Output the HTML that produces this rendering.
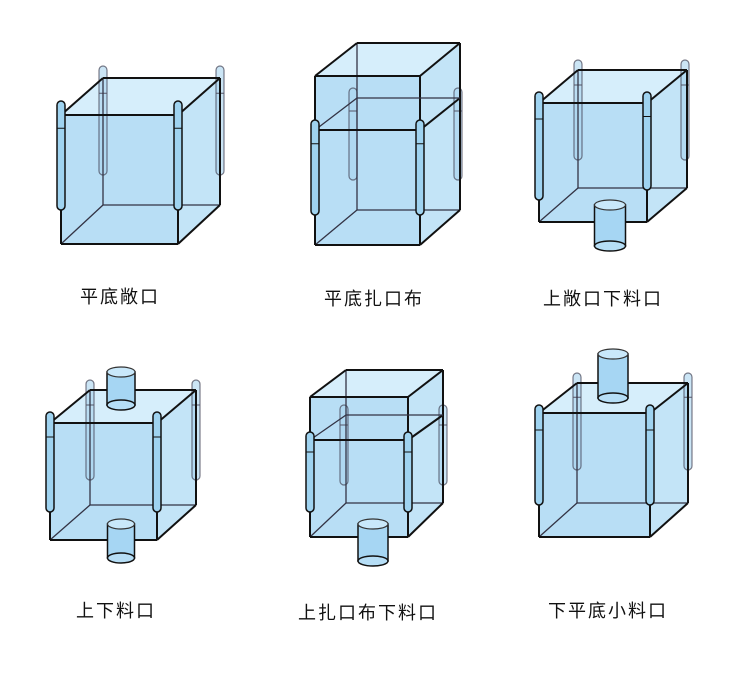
<!DOCTYPE html>
<html><head><meta charset="utf-8"><style>
html,body{margin:0;padding:0;background:#fff;}
#c{position:relative;width:750px;height:681px;overflow:hidden;}
.t{position:absolute;font-family:"Liberation Sans","Noto Sans CJK SC",sans-serif;font-size:18px;color:#111;letter-spacing:2px;white-space:nowrap;}
</style></head><body><div id="c">
<svg id="s" width="750" height="681" xmlns="http://www.w3.org/2000/svg"></svg>
<div class="t" style="left:80px;top:283px">平底敞口</div>
<div class="t" style="left:324px;top:285px">平底扎口布</div>
<div class="t" style="left:543px;top:285px">上敞口下料口</div>
<div class="t" style="left:76px;top:597px">上下料口</div>
<div class="t" style="left:298px;top:599px">上扎口布下料口</div>
<div class="t" style="left:548px;top:597px">下平底小料口</div>
</div>
<script>
var s=document.getElementById('s'),h='';
function P(a){return a.map(function(p){return p.join(',')}).join(' ');}
function L(a,b,w,c){h+='<line x1="'+a[0]+'" y1="'+a[1]+'" x2="'+b[0]+'" y2="'+b[1]+'" stroke="'+(c||'#111')+'" stroke-width="'+w+'"/>';}
function strap(x,y1,y2,back){h+='<rect x="'+(x-4)+'" y="'+y1+'" width="8" height="'+(y2-y1)+'" rx="4" fill="'+(back?'#a8d4ee':'#9fd3f0')+'" fill-opacity="'+(back?0.6:1)+'" stroke="'+(back?'#445':'#111')+'" stroke-width="'+(back?1.2:1.5)+'" stroke-opacity="'+(back?0.7:1)+'"/>';
 L([x-4,y1+(y2-y1)*0.25],[x+4,y1+(y2-y1)*0.25],1,back?'#556':'#111');}
function spout(cx,y1,y2,w){var rx=w/2;
 h+='<rect x="'+(cx-rx)+'" y="'+y1+'" width="'+w+'" height="'+(y2-y1)+'" fill="#a6d6f3" stroke="#111" stroke-width="1.5"/>';
 h+='<ellipse cx="'+cx+'" cy="'+y1+'" rx="'+rx+'" ry="5" fill="#c9e8fa" stroke="#333" stroke-width="1.2"/>';
 h+='<ellipse cx="'+cx+'" cy="'+y2+'" rx="'+rx+'" ry="5" fill="#b6def6" stroke="#111" stroke-width="1.5"/>';}
function box(o){var fx1=o.fx1,fx2=o.fx2,ft=o.ft,fb=o.fb,bx1=o.bx1,bx2=o.bx2,bt=o.bt,bb=o.bb;
 h+='<polygon points="'+P([[fx1,ft],[bx1,bt],[bx2,bt],[bx2,bb],[fx2,fb],[fx1,fb]])+'" fill="#c3e4f7"/>';
 h+='<polygon points="'+P([[fx1,ft],[bx1,bt],[bx2,bt],[fx2,ft]])+'" fill="#d6eefb"/>';
 h+='<polygon points="'+P([[fx1,ft],[fx2,ft],[fx2,fb],[fx1,fb]])+'" fill="#b8def5"/>';
 o.bs.forEach(function(b){strap(b[0],b[1],b[2],true);});
 L([bx1,bt],[bx1,bb],1.3,'#334');L([bx1,bb],[bx2,bb],1.3,'#334');L([bx1,bb],[fx1,fb],1.3,'#334');
 L([fx1,ft],[fx2,ft],2);L([fx2,ft],[fx2,fb],2);L([fx2,fb],[fx1,fb],2);L([fx1,fb],[fx1,ft],2);
 L([fx1,ft],[bx1,bt],2);L([bx1,bt],[bx2,bt],2);L([fx2,ft],[bx2,bt],2);L([bx2,bt],[bx2,bb],2);L([fx2,fb],[bx2,bb],2);
 if(o.mid){var fm=o.mid[0],bm=o.mid[1];L([fx1,fm],[fx2,fm],2);L([fx2,fm],[bx2,bm],2);L([fx1,fm],[bx1,bm],1.3,'#334');L([bx1,bm],[bx2,bm],1.3,'#334');}
 if(o.topSpout)spout.apply(null,o.topSpout);
 if(o.botSpout)spout.apply(null,o.botSpout);
 o.fs.forEach(function(b){strap(b[0],b[1],b[2],false);});
}
box({fx1:61,fx2:178,ft:115,fb:244,bx1:103,bx2:220,bt:78,bb:205,bs:[[103,66,175],[220,66,175]],fs:[[61,101,210],[178,101,210]]});
box({fx1:315,fx2:420,ft:76,fb:245,bx1:357,bx2:460,bt:43,bb:210,mid:[130,98],bs:[[353,88,180],[458,88,180]],fs:[[315,120,215],[420,120,215]]});
box({fx1:539,fx2:647,ft:103,fb:222,bx1:578,bx2:687,bt:70,bb:188,bs:[[578,60,160],[685,60,160]],fs:[[539,92,200],[647,92,190]],botSpout:[610,205,246,31]});
box({fx1:50,fx2:157,ft:423,fb:540,bx1:90,bx2:196,bt:390,bb:505,bs:[[90,380,480],[196,380,480]],fs:[[50,412,512],[157,412,512]],topSpout:[121,372,405,28],botSpout:[121,524,558,27]});
box({fx1:310,fx2:408,ft:397,fb:537,bx1:346,bx2:443,bt:370,bb:503,mid:[440,415],bs:[[344,405,485],[443,405,485]],fs:[[310,432,512],[408,432,512]],botSpout:[373,524,561,30]});
box({fx1:539,fx2:650,ft:413,fb:537,bx1:577,bx2:688,bt:383,bb:503,bs:[[577,373,470],[688,373,470]],fs:[[539,405,505],[650,405,505]],topSpout:[613,354,398,30]});
s.innerHTML=h;
</script>
</body></html>
